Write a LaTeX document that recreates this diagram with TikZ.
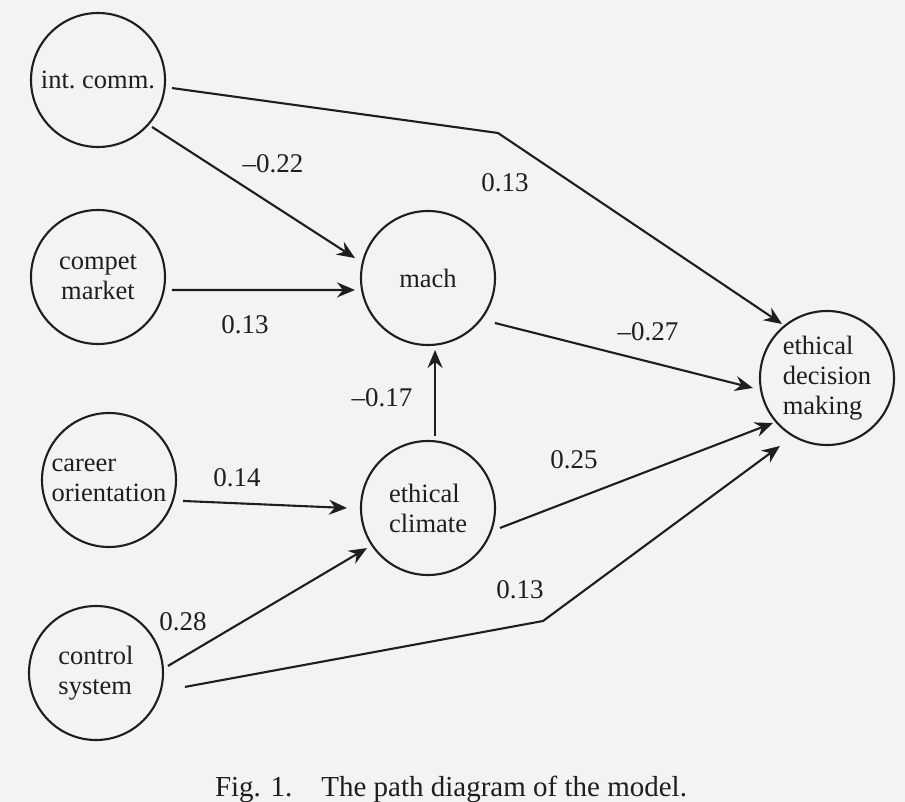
\documentclass[tikz,border=0pt]{standalone}
\usepackage{fontspec}
\setmainfont{Liberation Serif}
\usetikzlibrary{arrows.meta}
\definecolor{ink}{RGB}{30,30,30}
\definecolor{paper}{RGB}{243,243,241}
\begin{document}
\begin{tikzpicture}[x=1pt,y=1pt,
  var/.style={circle,draw=ink,line width=2.1pt,minimum size=134pt,inner sep=0pt,
    font=\fontsize{26.5}{30}\selectfont,text=ink},
  arr/.style={draw=ink,line width=2.1pt,line join=round,
    -{Stealth[length=18pt,width=15pt,inset=6pt]}},
  coef/.style={font=\fontsize{27}{31}\selectfont,text=ink,inner sep=0pt},
  capt/.style={font=\fontsize{29}{33}\selectfont,text=ink,inner sep=0pt}]
\fill[paper] (0,0) rectangle (905,-802);
\useasboundingbox (0,0) rectangle (905,-802);
% variables
\node[var] (ic) at (98,-80) {int.\ comm.};
\node[var] (cm) at (98,-277) [align=center] {compet\\market};
\node[var] (co) at (109,-480) [align=left] {career\\orientation};
\node[var] (cs) at (96,-673) [align=left] {control\\system};
\node[var] (ma) at (428,-278) {mach};
\node[var] (ec) at (428,-508) [align=left] {ethical\\climate};
\node[var] (ed) at (827,-378) [align=left] {ethical\\decision\\making};
% bend points
\coordinate (b1) at (498,-133);
\coordinate (b2) at (543,-621);
% paths
\draw[arr] ([shift={(-6.2:74.4)}]ic.center) -- (b1) -- ([shift={(129.8:70.3)}]ed.center);
\draw[arr] ([shift={(-41:71.6)}]ic.center) -- ([shift={(164.7:75.7)}]ma.center);
\draw[arr] ([shift={(-10:75)}]cm.center) -- ([shift={(189.3:74)}]ma.center);
\draw[arr] ([shift={(-15.8:77)}]co.center) -- ([shift={(180:81)}]ec.center);
\draw[arr] ([shift={(5.6:72.3)}]cs.center) -- ([shift={(213.3:73)}]ec.center);
\draw[arr] ([shift={(-8.9:90)}]cs.center) -- (b2) -- ([shift={(235.3:82.7)}]ed.center);
\draw[arr] ([shift={(84.4:72.3)}]ec.center) -- ([shift={(-84.4:72.3)}]ma.center);
\draw[arr] ([shift={(-33.9:80.7)}]ma.center) -- ([shift={(187.7:74.7)}]ed.center);
\draw[arr] ([shift={(-15.5:74.7)}]ec.center) -- ([shift={(219.8:70.3)}]ed.center);
% coefficients
\node[coef] (l1) at (505,-183) {0.13};
\node[coef] (l2) at (273,-164) {–0.22};
\node[coef] (l3) at (245,-325) {0.13};
\node[coef] (l4) at (237,-478) {0.14};
\node[coef] (l5) at (183,-622) {0.28};
\node[coef] (l6) at (382,-398) {–0.17};
\node[coef] (l7) at (648,-332) {–0.27};
\node[coef] (l8) at (574,-460) {0.25};
\node[coef] (l9) at (520,-590) {0.13};
% caption
\node[capt] (cap) at (451,-789) {Fig. 1.\quad The path diagram of the model.};
\end{tikzpicture}
\end{document}
